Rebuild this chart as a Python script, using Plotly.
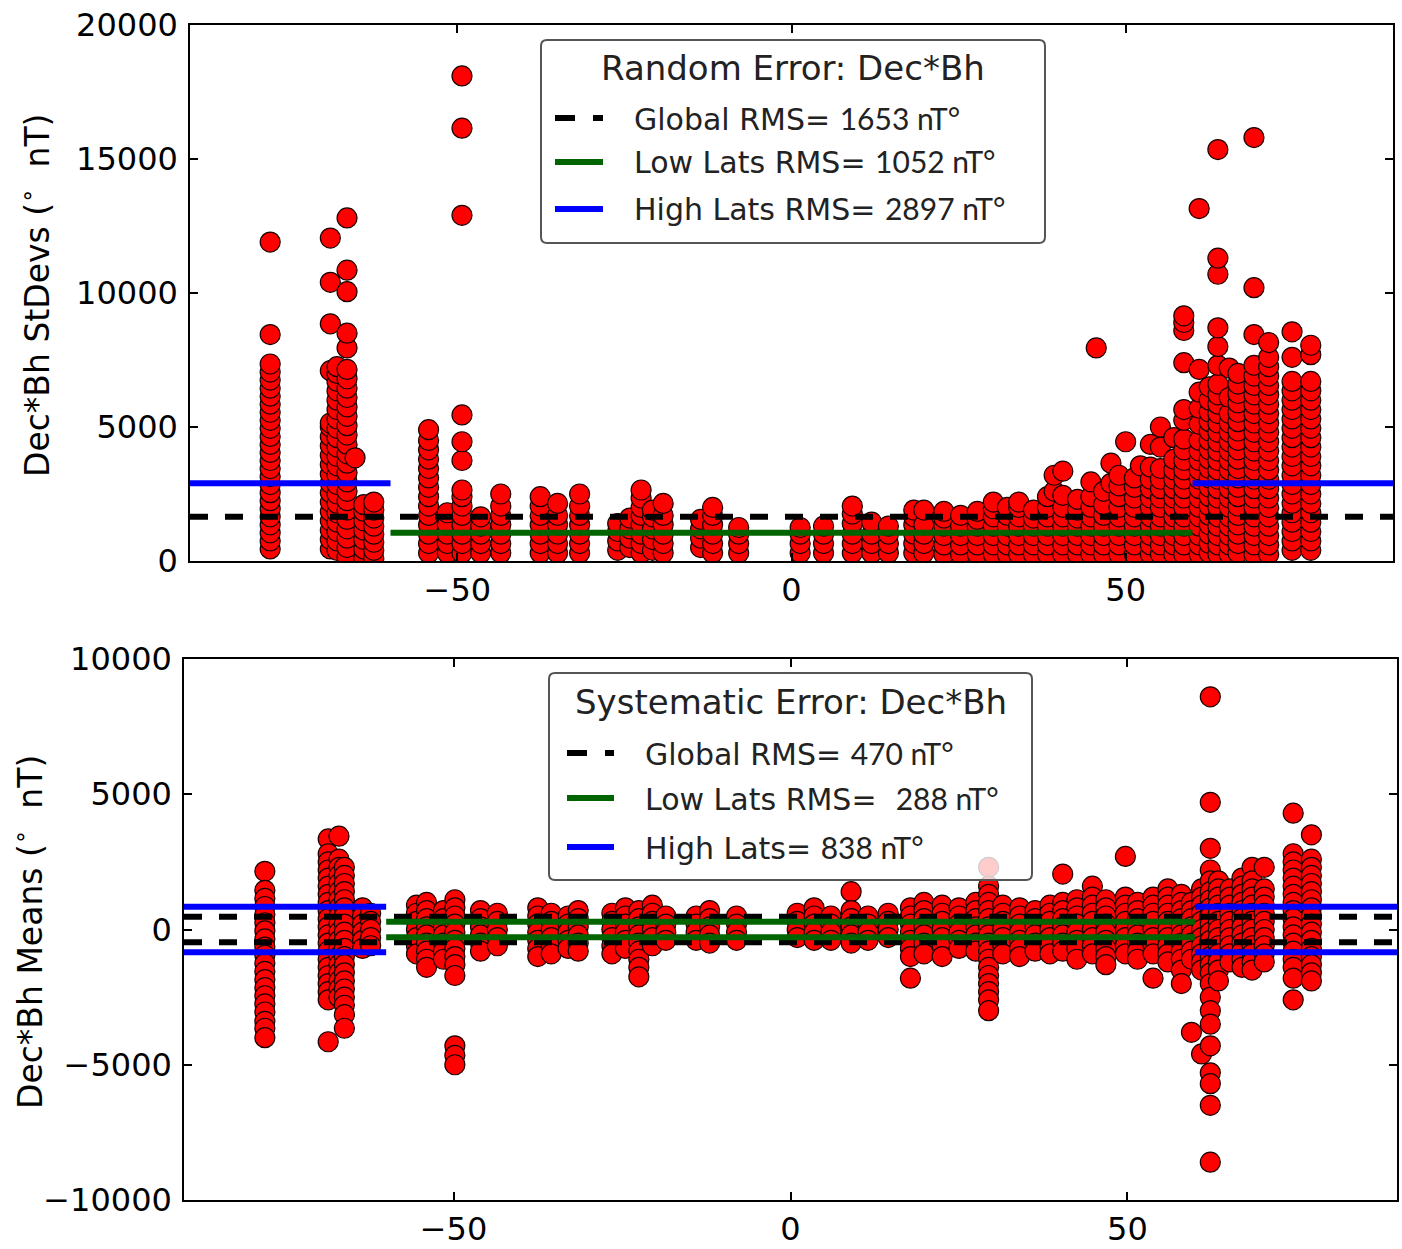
import plotly.graph_objects as go

# ---------------------------------------------------------------------------
# Per-station values: (geomagnetic latitude, [values...]) grouped by band.
# Top panel: standard deviations of Dec*Bh (deg nT)
# ---------------------------------------------------------------------------
sd_south = [
    (-78.0, [450, 750, 1050, 1350, 1650, 1950, 2250, 2550, 2850, 3150, 3450, 3750, 4050,
             4350, 4650, 4950, 5250, 5550, 5850, 6150, 6450, 6750, 7050, 7350, 8450, 11900]),
    (-69.0, [450, 800, 1150, 1500, 1850, 2200, 2550, 2900, 3250, 3600, 3950, 4300, 4650,
             5000, 5150, 7100, 8850, 10400, 12050]),
    (-68.0, [400, 750, 1100, 1450, 1800, 2150, 2500, 2850, 3200, 3550, 3900, 4250, 4600,
             4950, 5300, 5650, 6000, 6350, 6700, 7000, 7250]),
    (-66.5, [150, 500, 850, 1200, 1550, 1900, 2250, 2600, 2950, 3300, 3650, 4000, 4350,
             4700, 5050, 5400, 5750, 6100, 6450, 6800, 7150, 7950, 8500, 10050, 10850, 12800]),
    (-65.3, [3850]),
    (-64.0, [100, 450, 800, 1150, 1500, 1850, 2100]),
    (-62.5, [100, 400, 700, 1000, 1300, 1600, 1900, 2200]),
]

sd_mid = [
    (-54.3, [300, 650, 1000, 1350, 1700, 2050, 2400, 2750, 3100, 3450, 3800, 4150, 4500, 4900]),
    (-51.5, [300, 650, 1000, 1350, 1800]),
    (-49.3, [300, 650, 1000, 1350, 1700, 2050, 2400, 2650, 3750, 4450, 5450, 12900, 16150, 18100]),
    (-46.5, [300, 650, 1000, 1300, 1650]),
    (-43.5, [300, 650, 1000, 1350, 1700, 2050, 2500]),
    (-37.6, [300, 650, 1000, 1350, 1700, 2050, 2400]),
    (-35.0, [300, 650, 1000, 1350, 1700, 2150]),
    (-31.7, [300, 650, 1000, 1350, 1700, 2050, 2500]),
    (-26.0, [400, 750, 1100, 1400]),
    (-24.2, [500, 850, 1200, 1600]),
    (-22.5, [300, 650, 1000, 1350, 1700, 2000, 2350, 2650]),
    (-20.8, [400, 800, 1200, 1650, 1900]),
    (-19.2, [300, 650, 1000, 1350, 1700, 2150]),
    (-13.6, [500, 850, 1200, 1550]),
    (-11.8, [300, 650, 1000, 1350, 1700, 2000]),
    (-7.9, [300, 650, 1000, 1250]),
    (1.3, [300, 650, 1000, 1250]),
    (4.8, [300, 650, 1000, 1300]),
    (9.1, [300, 650, 1000, 1400, 1750, 2050]),
    (12.0, [300, 650, 1000, 1450]),
    (14.5, [300, 650, 1000, 1300]),
    (18.3, [300, 650, 1000, 1350, 1650, 1900]),
    (19.8, [300, 650, 1000, 1350, 1900]),
    (22.8, [250, 600, 950, 1300, 1600, 1850]),
    (25.3, [250, 600, 950, 1300, 1700]),
    (27.8, [250, 600, 950, 1300, 1550, 1850]),
    (30.2, [250, 600, 950, 1300, 1650, 1950, 2200]),
    (32.3, [250, 600, 950, 1300, 1700, 2000]),
    (34.0, [250, 600, 950, 1300, 1650, 2000, 2200]),
    (36.2, [250, 600, 950, 1300, 1600, 1900]),
    (38.3, [250, 600, 950, 1300, 1650, 2000, 2400]),
    (39.3, [2600, 3200]),
    (40.6, [250, 600, 950, 1300, 1650, 2000, 2450, 3350]),
    (42.8, [250, 600, 950, 1300, 1600, 1900, 2300]),
    (44.8, [250, 600, 950, 1300, 1650, 2000, 2400, 2950]),
    (45.6, [7950]),
    (46.7, [250, 600, 950, 1300, 1700, 2100, 2600]),
    (47.8, [2900, 3650]),
    (49.0, [250, 600, 950, 1300, 1650, 2000, 2400, 2800, 3200]),
    (50.0, [4450]),
    (51.3, [250, 600, 950, 1300, 1650, 2000, 2350, 2750, 3100]),
    (52.2, [3550]),
    (53.7, [250, 600, 950, 1300, 1650, 2000, 2350, 2700, 3050, 3500, 4350]),
    (55.2, [250, 600, 950, 1300, 1650, 2000, 2350, 2700, 3050, 3450, 4250, 5000]),
    (57.2, [250, 600, 950, 1300, 1650, 2000, 2350, 2700, 3050, 3400, 3800, 4600]),
    (58.7, [250, 600, 950, 1300, 1650, 2000, 2350, 2700, 3050, 3400, 3750, 4150, 4550,
            5250, 5650, 7400, 8600, 8900, 9150]),
]

sd_north = [
    (61.0, [250, 600, 950, 1300, 1650, 2000, 2350, 2700, 3050, 3400, 3750, 4100, 4500,
            5100, 5700, 6300, 7150, 13150]),
    (62.5, [300, 650, 1000, 1350, 1700, 2050, 2400, 2750, 3100, 3450, 3800, 4150, 4500,
            4850, 5200, 5550, 6000, 6500]),
    (63.8, [250, 600, 950, 1300, 1650, 2000, 2350, 2700, 3050, 3400, 3750, 4100, 4450,
            4800, 5150, 5500, 5850, 6200, 6600, 7300, 8000, 8700, 10700, 11300, 15350]),
    (65.5, [250, 600, 950, 1300, 1650, 2000, 2350, 2700, 3050, 3400, 3750, 4100, 4450,
            4800, 5150, 5500, 6100, 7200]),
    (66.8, [300, 650, 1000, 1350, 1700, 2050, 2400, 2750, 3100, 3450, 3800, 4150, 4500,
            4850, 5200, 5550, 5900, 6250, 6600, 7000]),
    (69.2, [250, 600, 950, 1300, 1650, 2000, 2350, 2700, 3050, 3400, 3750, 4100, 4450,
            4800, 5150, 5500, 5850, 6200, 6550, 6900, 7300, 8450, 10200, 15800]),
    (71.4, [250, 600, 950, 1300, 1650, 2000, 2350, 2700, 3050, 3400, 3750, 4100, 4450,
            4800, 5150, 5500, 5850, 6200, 6550, 6900, 7250, 7600, 8150]),
    (74.9, [400, 750, 1100, 1450, 1800, 2150, 2500, 2850, 3200, 3550, 3900, 4250, 4600,
            4950, 5300, 5650, 6000, 6350, 6700, 7600, 8550]),
    (77.7, [400, 750, 1100, 1450, 1800, 2150, 2500, 2850, 3200, 3550, 3900, 4250, 4600,
            4950, 5300, 5650, 6000, 6350, 6700, 7700, 8050]),
]

# ---------------------------------------------------------------------------
# Bottom panel: means of Dec*Bh (deg nT)
# ---------------------------------------------------------------------------
mean_south = [
    (-78.0, [2150, 1450, 1150, 850, 550, 250, -50, -350, -650, -950, -1250, -1550, -1850,
             -2150, -2450, -2750, -3050, -3400, -3650, -4000]),
    (-68.6, [3350, 2800, 2500, 2200, 1900, 1600, 1300, 1000, 700, 400, 100, -200, -500,
             -800, -1100, -1400, -1700, -2000, -2300, -2600, -4150]),
    (-67.0, [3450, 2600, 2300, 2000, 1700, 1400, 1100, 800, 500, 200, -100, -400, -700,
             -1000, -1300, -1600, -1900, -2200, -2500]),
    (-66.2, [2300, 2000, 1700, 1400, 1100, 800, 500, 200, -100, -400, -700, -1000, -1300,
             -1600, -1900, -2200, -2500, -2800, -3150, -3650]),
    (-63.5, [800, 500, 200, -100, -400, -700]),
    (-62.3, [600, 300, 0, -300, -600]),
]

mean_mid = [
    (-55.5, [900, 600, 300, 0, -300, -600, -900]),
    (-54.0, [1000, 700, 400, 100, -200, -500, -800, -1100, -1400]),
    (-51.5, [700, 400, 100, -200, -500, -800, -1100]),
    (-49.8, [1100, 800, 500, 200, -100, -400, -700, -1000, -1300, -1700, -4300, -4650, -5000]),
    (-46.0, [700, 400, 100, -200, -500, -800]),
    (-43.5, [600, 300, 0, -300, -600]),
    (-37.5, [800, 500, 200, -100, -400, -700, -1000]),
    (-35.5, [600, 300, 0, -300, -600, -900]),
    (-33.0, [500, 200, -100, -400, -700]),
    (-31.5, [700, 400, 100, -200, -500, -800]),
    (-26.5, [600, 300, 0, -300, -600, -900]),
    (-24.5, [800, 500, 200, -100, -400, -700]),
    (-22.5, [700, 400, 100, -200, -500, -800, -1100, -1400, -1750]),
    (-20.5, [900, 600, 300, 0, -300, -600]),
    (-18.5, [500, 200, -100, -400]),
    (-14.0, [500, 200, -100, -400]),
    (-12.0, [700, 400, 100, -200, -500]),
    (-8.0, [500, 200, -100, -400]),
    (1.0, [600, 300, 0, -300]),
    (3.5, [800, 500, 200, -100, -400]),
    (6.0, [500, 200, -100, -400]),
    (9.0, [1400, 700, 400, 100, -200, -500]),
    (11.5, [500, 200, -100, -400]),
    (14.5, [600, 300, 0, -300]),
    (17.8, [800, 500, 200, -100, -400, -700, -1000, -1800]),
    (19.8, [1000, 700, 400, 100, -200, -500, -900]),
    (22.5, [900, 600, 300, 0, -300, -600, -1000]),
    (25.0, [800, 500, 200, -100, -400, -700]),
    (27.5, [1000, 700, 400, 100, -200, -500, -800]),
    (29.4, [2300, 1600, 1300, 1000, 700, 400, 100, -200, -500, -800, -1100, -1400, -1700,
            -2000, -2300, -2600, -3000]),
    (31.5, [900, 600, 300, 0, -300, -600, -900]),
    (34.0, [800, 500, 200, -100, -400, -700, -1000]),
    (36.3, [700, 400, 100, -200, -500, -800]),
    (38.5, [900, 600, 300, 0, -300, -600, -900]),
    (40.4, [2050, 1000, 700, 400, 100, -200, -500, -800]),
    (42.5, [1100, 800, 500, 200, -100, -400, -700, -1100]),
    (44.8, [1600, 1200, 900, 600, 300, 0, -300, -600, -900]),
    (46.8, [1100, 800, 500, 200, -100, -400, -700, -1000, -1300]),
    (49.7, [2700, 1200, 900, 600, 300, 0, -300, -600, -900]),
    (51.5, [1000, 700, 400, 100, -200, -500, -800, -1100]),
    (53.8, [1200, 900, 600, 300, 0, -300, -600, -900, -1800]),
    (56.0, [1500, 1200, 900, 600, 300, 0, -300, -600, -900, -1200]),
    (58.0, [1300, 1000, 700, 400, 100, -200, -500, -800, -1100, -1500, -2000]),
    (59.5, [1000, 700, 400, 100, -200, -500, -800, -1100, -3800]),
]

mean_north = [
    (61.0, [1500, 1200, 900, 600, 300, 0, -300, -600, -900, -1200, -1500, -4600]),
    (62.3, [8600, 4700, 3000, 2200, 1800, 1400, 1100, 800, 500, 200, -100, -400, -700,
            -1000, -1300, -1600, -2000, -2500, -3000, -3500, -4300, -5300, -5700, -6500, -8600]),
    (63.5, [1800, 1500, 1200, 900, 600, 300, 0, -300, -600, -900, -1200, -1500, -1900]),
    (65.2, [1500, 1200, 900, 600, 300, 0, -300, -600, -900, -1200]),
    (67.0, [1900, 1600, 1300, 1000, 700, 400, 100, -200, -500, -800, -1100, -1400]),
    (68.5, [2300, 1800, 1500, 1200, 900, 600, 300, 0, -300, -600, -900, -1200, -1500]),
    (70.3, [2300, 1500, 1200, 900, 600, 300, 0, -300, -600, -900, -1200]),
    (74.6, [4300, 2800, 2500, 2200, 1900, 1600, 1300, 1000, 700, 400, 100, -200, -500,
            -800, -1100, -1400, -1800, -2600]),
    (77.3, [3500, 2600, 2300, 2000, 1700, 1400, 1100, 800, 500, 200, -100, -400, -700,
            -1000, -1300, -1600, -1900]),
]

# RMS summaries (deg nT)
sd_rms_global, sd_rms_low, sd_rms_high = 1653, 1052, 2897
mean_rms_global, mean_rms_low, mean_rms_high = 470, 288, 838

# latitude limits of the low / high latitude bands
lat_min, lat_split, lat_max = -90, 60, 90

x_ticks = [-50, 0, 50]
sd_ticks = [0, 5000, 10000, 15000, 20000]
mean_ticks = [-10000, -5000, 0, 5000, 10000]


def flatten(*groups):
    xs, ys = [], []
    for group in groups:
        for lat, vals in group:
            xs.extend([lat] * len(vals))
            ys.extend(vals)
    return xs, ys


def tick_text(vals):
    return [str(v).replace("-", "\u2212") for v in vals]


W, H = 1402, 1249
FONT = "DejaVu Sans"
NUM_FONT = "Lato"
TEXT_COLOR = "#222222"
BLACK, GREEN, BLUE = "black", "#006400", "#0000ff"
DASH = "18px,17px"
LW = 6

marker = dict(size=20, color="#ff0000", line=dict(color="#1a0000", width=1.2))

fig = go.Figure()

# --- top panel: station scatter + RMS levels --------------------------------
sx, sy = flatten(sd_south, sd_mid, sd_north)
fig.add_trace(go.Scatter(x=sx, y=sy, mode="markers", marker=marker,
                         xaxis="x", yaxis="y", hoverinfo="skip"))
fig.add_trace(go.Scatter(
    x=[lat_min, lat_max], y=[sd_rms_global, sd_rms_global], mode="lines",
    line=dict(color=BLACK, width=LW, dash=DASH), xaxis="x", yaxis="y"))
fig.add_trace(go.Scatter(
    x=[-lat_split, lat_split], y=[sd_rms_low, sd_rms_low], mode="lines",
    line=dict(color=GREEN, width=LW), xaxis="x", yaxis="y"))
fig.add_trace(go.Scatter(
    x=[lat_min, -lat_split, None, lat_split, lat_max],
    y=[sd_rms_high, sd_rms_high, None, sd_rms_high, sd_rms_high], mode="lines",
    line=dict(color=BLUE, width=LW), xaxis="x", yaxis="y"))

# --- bottom panel: station scatter + +/- RMS levels -------------------------
mx, my = flatten(mean_south, mean_mid, mean_north)
fig.add_trace(go.Scatter(x=mx, y=my, mode="markers", marker=marker,
                         xaxis="x2", yaxis="y2", hoverinfo="skip"))
fig.add_trace(go.Scatter(
    x=[lat_min, lat_max, None, lat_min, lat_max],
    y=[mean_rms_global, mean_rms_global, None, -mean_rms_global, -mean_rms_global],
    mode="lines", line=dict(color=BLACK, width=LW, dash=DASH), xaxis="x2", yaxis="y2"))
fig.add_trace(go.Scatter(
    x=[-lat_split, lat_split, None, -lat_split, lat_split],
    y=[mean_rms_low, mean_rms_low, None, -mean_rms_low, -mean_rms_low],
    mode="lines", line=dict(color=GREEN, width=LW), xaxis="x2", yaxis="y2"))
fig.add_trace(go.Scatter(
    x=[lat_min, -lat_split, None, lat_split, lat_max, None,
       lat_min, -lat_split, None, lat_split, lat_max],
    y=[mean_rms_high, mean_rms_high, None, mean_rms_high, mean_rms_high, None,
       -mean_rms_high, -mean_rms_high, None, -mean_rms_high, -mean_rms_high],
    mode="lines", line=dict(color=BLUE, width=LW), xaxis="x2", yaxis="y2"))


# --- legend boxes (laid out in pixels, converted to paper fractions) --------
def px(x):
    return x / W


def py(y):
    return 1 - y / H


def rounded_box(x0, y0, x1, y1, r=6):
    p = [
        f"M{px(x0 + r)},{py(y0)}", f"L{px(x1 - r)},{py(y0)}",
        f"Q{px(x1)},{py(y0)} {px(x1)},{py(y0 + r)}",
        f"L{px(x1)},{py(y1 - r)}",
        f"Q{px(x1)},{py(y1)} {px(x1 - r)},{py(y1)}",
        f"L{px(x0 + r)},{py(y1)}",
        f"Q{px(x0)},{py(y1)} {px(x0)},{py(y1 - r)}",
        f"L{px(x0)},{py(y0 + r)}",
        f"Q{px(x0)},{py(y0)} {px(x0 + r)},{py(y0)}", "Z",
    ]
    return dict(type="path", path=" ".join(p), xref="paper", yref="paper",
                fillcolor="rgba(255,255,255,0.8)", line=dict(color="#555555", width=2),
                layer="above")


def legend_block(box, title, title_y, sym_x, text_x, rows):
    shapes = [rounded_box(*box)]
    annos = [dict(text=title, x=px((box[0] + box[2]) / 2), y=py(title_y),
                  xref="paper", yref="paper", xanchor="center", yanchor="middle",
                  showarrow=False, font=dict(family=FONT, size=34, color=TEXT_COLOR))]
    for (name, value, color, dash, y) in rows:
        shapes.append(dict(type="line", xref="paper", yref="paper",
                           x0=px(sym_x[0]), x1=px(sym_x[1]), y0=py(y), y1=py(y),
                           line=dict(color=color, width=LW, dash=dash), layer="above"))
        annos.append(dict(
            text=(f"{name} <span style='font-family:{NUM_FONT}'>{value} nT°</span>"),
            x=px(text_x), y=py(y), xref="paper", yref="paper",
            xanchor="left", yanchor="middle", showarrow=False,
            font=dict(family=FONT, size=30, color=TEXT_COLOR)))
    return shapes, annos


LEGEND_DASH = "20px,18px"

top_shapes, top_annos = legend_block(
    (541, 40, 1045, 243), "Random Error: Dec*Bh", 68, (555, 603), 632,
    [("Global RMS=", sd_rms_global, BLACK, LEGEND_DASH, 118),
     ("Low Lats RMS=", sd_rms_low, GREEN, "solid", 162),
     ("High Lats RMS=", sd_rms_high, BLUE, "solid", 209)])

bot_shapes, bot_annos = legend_block(
    (549, 673, 1032, 880), "Systematic Error: Dec*Bh", 702, (567, 614), 643,
    [("Global RMS=", mean_rms_global, BLACK, LEGEND_DASH, 753),
     ("Low Lats RMS= ", mean_rms_low, GREEN, "solid", 798),
     ("High Lats=", mean_rms_high, BLUE, "solid", 847)])

axis_common = dict(
    showline=True, linecolor="black", linewidth=1.5, mirror="ticks",
    ticks="inside", ticklen=8, tickwidth=1.5, tickcolor="black",
    showgrid=False, zeroline=False, automargin=False,
    tickfont=dict(family=FONT, size=32, color="black"),
)

ylabels = [
    dict(text="Dec*Bh StDevs (<sup>∘</sup>  nT)", textangle=-90,
         x=px(35), y=py(295), xref="paper", yref="paper",
         xanchor="center", yanchor="middle", showarrow=False,
         font=dict(family=FONT, size=33, color="black")),
    dict(text="Dec*Bh Means (<sup>∘</sup>  nT)", textangle=-90,
         x=px(28), y=py(932), xref="paper", yref="paper",
         xanchor="center", yanchor="middle", showarrow=False,
         font=dict(family=FONT, size=33, color="black")),
]

fig.update_layout(
    width=W, height=H,
    margin=dict(l=0, r=0, t=0, b=0),
    paper_bgcolor="white", plot_bgcolor="white",
    showlegend=False,
    xaxis=dict(domain=[px(190), px(1393)], range=[-90, 90], tickvals=x_ticks,
               ticktext=tick_text(x_ticks), anchor="y", ticklabelstandoff=0,
               **axis_common),
    yaxis=dict(domain=[py(561), py(25)], range=[0, 20000], tickvals=sd_ticks,
               ticktext=tick_text(sd_ticks), anchor="x", ticklabelstandoff=4,
               **axis_common),
    xaxis2=dict(domain=[px(184), px(1397)], range=[-90, 90], tickvals=x_ticks,
                ticktext=tick_text(x_ticks), anchor="y2", ticklabelstandoff=0,
                **axis_common),
    yaxis2=dict(domain=[py(1200), py(659)], range=[-10000, 10000],
                tickvals=mean_ticks, ticktext=tick_text(mean_ticks), anchor="x2",
                ticklabelstandoff=4, **axis_common),
    shapes=top_shapes + bot_shapes,
    annotations=ylabels + top_annos + bot_annos,
)

fig.write_html("out.html")
